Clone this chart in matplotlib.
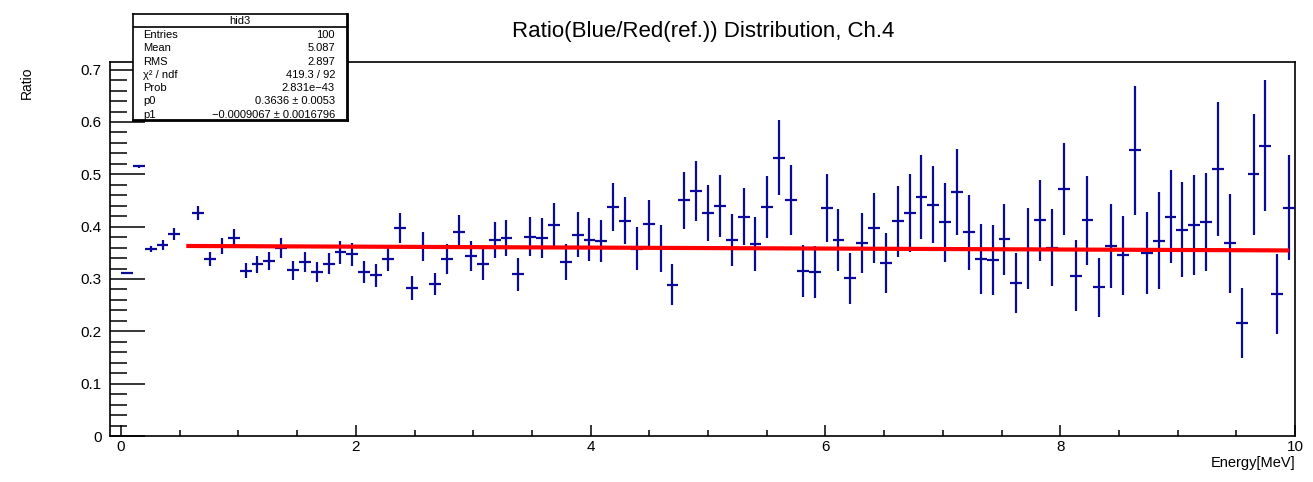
import numpy as np
import matplotlib
matplotlib.use("Agg")
import matplotlib.pyplot as plt
from matplotlib.ticker import MultipleLocator, FuncFormatter

plt.rcParams["font.family"] = ["Liberation Sans", "DejaVu Sans"]

# histogram: 99 bins between 0 and 10 MeV, bin 5 is empty
n_bins = 99
x_lo, x_hi = 0.0, 10.0
ratio = [
    0.311, 0.515, 0.357, 0.365, 0.386, np.nan, 0.426, 0.338, 0.363, 0.378,
    0.316, 0.328, 0.334, 0.360, 0.317, 0.332, 0.313, 0.329, 0.351, 0.347,
    0.313, 0.307, 0.338, 0.398, 0.283, 0.362, 0.290, 0.338, 0.390, 0.344,
    0.328, 0.374, 0.378, 0.309, 0.381, 0.378, 0.404, 0.333, 0.385, 0.375,
    0.373, 0.438, 0.411, 0.358, 0.406, 0.359, 0.289, 0.450, 0.468, 0.426,
    0.440, 0.375, 0.419, 0.367, 0.438, 0.532, 0.451, 0.315, 0.313, 0.435,
    0.375, 0.301, 0.369, 0.398, 0.330, 0.410, 0.426, 0.456, 0.442, 0.408,
    0.466, 0.389, 0.339, 0.336, 0.376, 0.292, 0.358, 0.412, 0.360, 0.472,
    0.306, 0.412, 0.284, 0.363, 0.345, 0.546, 0.350, 0.373, 0.419, 0.394,
    0.403, 0.409, 0.511, 0.368, 0.216, 0.500, 0.555, 0.271, 0.436,
]
ratio_err = [
    0.002, 0.003, 0.006, 0.009, 0.011, np.nan, 0.014, 0.013, 0.015, 0.017,
    0.014, 0.016, 0.017, 0.019, 0.018, 0.019, 0.019, 0.020, 0.022, 0.022,
    0.021, 0.022, 0.023, 0.029, 0.023, 0.027, 0.021, 0.028, 0.032, 0.029,
    0.030, 0.034, 0.034, 0.031, 0.037, 0.038, 0.042, 0.034, 0.043, 0.041,
    0.040, 0.046, 0.045, 0.041, 0.045, 0.045, 0.039, 0.055, 0.057, 0.054,
    0.059, 0.050, 0.055, 0.052, 0.059, 0.072, 0.066, 0.049, 0.050, 0.065,
    0.059, 0.048, 0.057, 0.067, 0.057, 0.068, 0.075, 0.080, 0.073, 0.076,
    0.082, 0.071, 0.067, 0.067, 0.068, 0.057, 0.078, 0.077, 0.074, 0.088,
    0.068, 0.085, 0.057, 0.080, 0.075, 0.123, 0.078, 0.093, 0.089, 0.091,
    0.095, 0.093, 0.128, 0.094, 0.066, 0.116, 0.126, 0.077, 0.100,
]

# pol1 fit result
p0, p0_err = 0.3636, 0.0053
p1, p1_err = -0.0009067, 0.0016796
fit_first_bin, fit_last_bin = 5, 98

# stats box
stats_rows = [
    ("Entries", "100"),
    ("Mean", "5.087"),
    ("RMS", "2.897"),
    ("\u03c7\u00b2 / ndf", "419.3 / 92"),
    ("Prob", "2.831e\u221243"),
    ("p0", "0.3636 \u00b1 0.0053"),
    ("p1", "\u22120.0009067 \u00b1 0.0016796"),
]

bin_w = (x_hi - x_lo) / n_bins
centers = x_lo + (np.arange(n_bins) + 0.5) * bin_w

fig = plt.figure(figsize=(13.13, 4.82), dpi=100)
ax = fig.add_axes([0.0838, 0.0954, 0.9025, 0.776])

ax.errorbar(centers, ratio, yerr=ratio_err, xerr=bin_w / 2, fmt="none",
            ecolor="#0a0a9a", elinewidth=1.6, capsize=0, zorder=3)

x_fit = centers[[fit_first_bin, fit_last_bin]]
ax.plot(x_fit, p0 + p1 * x_fit, color="#ff0000", lw=3.0, zorder=4,
        solid_capstyle="butt")

ax.set_xlim(-0.094, 10.0)
ax.set_ylim(0, 0.7146)

ax.xaxis.set_major_locator(MultipleLocator(2))
ax.xaxis.set_minor_locator(MultipleLocator(0.5))
ax.yaxis.set_major_locator(MultipleLocator(0.1))
ax.yaxis.set_minor_locator(MultipleLocator(0.02))
ax.xaxis.set_major_formatter(FuncFormatter(lambda v, p: "%d" % round(v)))
ax.yaxis.set_major_formatter(
    FuncFormatter(lambda v, p: "0" if abs(v) < 1e-9 else "%.1f" % v))

ax.tick_params(axis="x", which="major", direction="in", length=8, width=1.1,
               labelsize=11, pad=3, top=False)
ax.tick_params(axis="x", which="minor", direction="in", length=4, width=1.1,
               top=False)
ax.tick_params(axis="y", which="major", direction="in", length=25, width=1.1,
               labelsize=11, pad=6, right=False)
ax.tick_params(axis="y", which="minor", direction="in", length=12.5, width=1.1,
               right=False)
for s in ax.spines.values():
    s.set_linewidth(1.2)

fig.text(703 / 1313, 1 - 32 / 482, "Ratio(Blue/Red(ref.)) Distribution, Ch.4",
         ha="center", va="center", fontsize=16)
fig.text(27 / 1313, 1 - 83 / 482, "Ratio", rotation=90, ha="center",
         va="center", fontsize=10)
fig.text(1295 / 1313, 1 - 463 / 482, "Energy[MeV]", ha="right", va="center",
         fontsize=10.5)

# stats box drawn on top of the frame
sb = fig.add_axes([133 / 1313, 1 - 120 / 482, 214 / 1313, 106 / 482])
sb.set_xlim(0, 214)
sb.set_ylim(106, 0)
sb.set_xticks([])
sb.set_yticks([])
sb.set_facecolor("white")
for name, s in sb.spines.items():
    s.set_linewidth(2.0 if name in ("bottom", "right") else 1.2)
sb.axhline(13, color="black", lw=1.2)
sb.text(107, 7, "hid3", ha="center", va="center", fontsize=8)
for k, (label, value) in enumerate(stats_rows):
    y = 21 + k * 13.3
    sb.text(10, y, label, ha="left", va="center", fontsize=8)
    sb.text(202, y, value, ha="right", va="center", fontsize=8)

fig.savefig("out.png", dpi=100)
